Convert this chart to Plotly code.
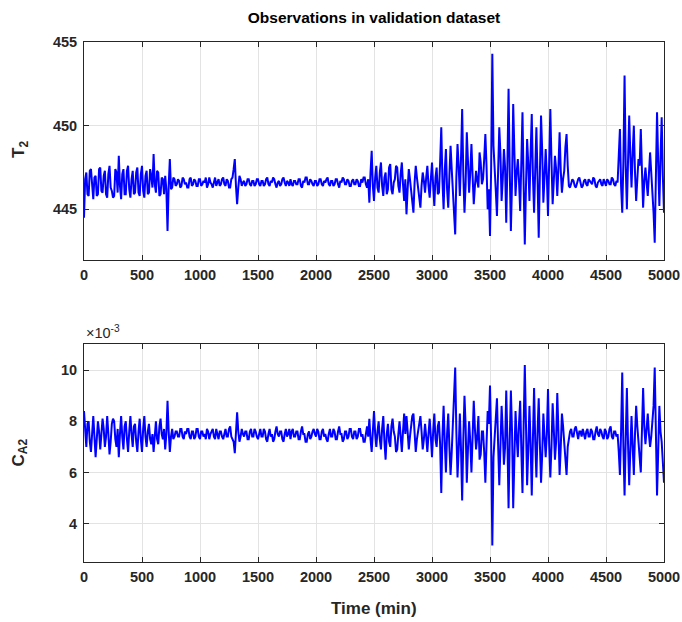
import plotly.graph_objects as go
from plotly.subplots import make_subplots

time_min = list(range(0, 5001, 10))

t2 = [
    # 0-490
    444.5, 446.8, 447.2, 445.9, 445.8, 447.3, 447.4, 446.2, 445.6, 446.9,
    447.0, 445.8, 445.9, 447.4, 447.5, 446.1, 446.0, 447.0, 447.3, 445.9,
    445.7, 447.1, 447.6, 446.3, 446.1, 445.7, 445.8, 447.4, 447.2, 446.0,
    448.2, 446.4, 445.6, 447.1, 447.4, 445.9, 445.9, 447.3, 447.6, 446.2,
    445.7, 446.8, 447.3, 445.9, 446.0, 447.2, 447.5, 446.0, 445.8, 447.1,
    # 500-990
    447.6, 446.1, 445.7, 447.0, 447.3, 445.9, 446.0, 447.4, 447.0, 446.3,
    448.3, 446.5, 446.0, 447.3, 447.2, 445.8, 445.9, 446.9, 446.8, 445.9,
    447.0, 446.2, 443.7, 446.4, 448.0, 446.2, 446.3, 446.9, 446.8, 446.4,
    446.5, 446.8, 446.7, 446.3, 446.4, 446.9, 446.8, 446.5, 446.6, 446.3,
    446.3, 446.8, 446.9, 446.4, 446.5, 446.8, 446.7, 446.4, 446.4, 446.8,
    # 1000-1490
    446.8, 446.4, 446.5, 446.7, 446.6, 446.9, 446.3, 446.5, 446.9, 446.6,
    446.5, 446.3, 446.7, 446.9, 446.4, 446.6, 446.8, 446.4, 446.5, 446.8,
    446.9, 446.5, 446.4, 446.8, 446.7, 446.3, 446.3, 446.8, 446.9, 447.4,
    448.0, 446.4, 445.3, 446.3, 447.0, 446.8, 446.4, 446.6, 446.7, 446.4,
    446.5, 446.8, 446.8, 446.5, 446.4, 446.7, 446.7, 446.4, 446.5, 446.8,
    # 1500-1990
    446.8, 446.5, 446.4, 446.7, 446.7, 446.4, 446.5, 446.8, 446.9, 446.5,
    446.4, 446.7, 446.6, 446.9, 446.8, 446.5, 446.3, 446.6, 446.7, 446.4,
    446.5, 446.8, 446.9, 446.6, 446.4, 446.7, 446.6, 446.4, 446.8, 446.5,
    446.4, 446.7, 446.7, 446.5, 446.5, 446.8, 446.8, 446.4, 446.3, 446.7,
    446.6, 446.9, 446.9, 446.5, 446.5, 446.8, 446.7, 446.5, 446.4, 446.7,
    # 2000-2490
    446.7, 446.4, 446.5, 446.8, 446.8, 446.5, 446.4, 446.7, 446.6, 446.8,
    446.9, 446.5, 446.4, 446.7, 446.7, 446.4, 446.5, 446.8, 446.8, 446.5,
    446.3, 446.7, 446.6, 446.9, 446.8, 446.5, 446.5, 446.8, 446.7, 446.4,
    446.4, 446.7, 446.8, 446.5, 446.5, 446.8, 446.7, 446.4, 446.4, 446.8,
    446.6, 446.9, 446.9, 446.5, 446.3, 446.8, 445.4, 447.2, 448.5, 446.4,
    # 2500-2990
    445.5, 446.9, 447.6, 446.3, 446.0, 447.2, 447.8, 446.4, 445.8, 446.9,
    447.2, 445.9, 446.2, 447.5, 447.7, 446.2, 445.9, 446.6, 446.8, 447.6,
    447.5, 446.4, 446.0, 447.1, 447.8, 446.5, 445.5, 446.8, 444.7, 446.2,
    447.4, 446.8, 446.1, 445.3, 444.8, 446.6, 447.6, 446.9, 446.3, 445.8,
    445.1, 446.4, 447.2, 446.7, 446.0, 446.9, 447.6, 446.4, 445.7, 446.8,
    # 3000-3490
    447.8, 446.4, 445.2, 446.9, 447.5, 445.9, 446.0, 447.8, 449.9, 446.7,
    445.0, 447.3, 448.6, 446.2, 445.1, 447.0, 448.8, 447.4, 446.0, 444.8,
    443.5, 446.9, 448.9, 447.6, 445.8, 448.0, 451.0, 447.1, 444.8, 446.5,
    449.6, 447.9, 446.0, 447.2, 448.9, 447.0, 445.3, 446.4, 447.3, 446.7,
    446.3, 448.4, 447.8, 446.5, 446.8, 448.0, 449.5, 447.6, 445.0, 446.2,
    # 3500-3990
    443.4, 447.5, 454.3, 448.8, 447.0, 446.1, 444.6, 447.2, 449.9, 448.3,
    445.5, 446.8, 448.6, 447.5, 444.2, 447.6, 452.2, 447.4, 443.7, 446.6,
    451.3, 448.5, 445.8, 447.2, 448.0, 446.7, 444.9, 447.8, 450.8, 446.5,
    442.9, 446.3, 449.2, 447.7, 445.5, 448.3, 450.7, 447.0, 444.8, 447.4,
    449.9, 446.8, 443.3, 447.1, 450.6, 448.5, 445.4, 446.9, 448.6, 447.0,
    # 4000-4490
    444.6, 447.8, 451.0, 447.9, 445.3, 446.7, 448.2, 447.4, 445.8, 447.5,
    449.6, 447.3, 446.0, 446.8, 447.3, 448.7, 449.5, 447.6, 446.4, 446.3,
    446.5, 446.8, 446.7, 446.4, 446.3, 446.6, 446.8, 446.9, 446.5, 446.3,
    446.4, 446.7, 446.8, 446.5, 446.4, 446.8, 446.7, 446.6, 446.5, 446.9,
    446.8, 446.4, 446.3, 446.6, 446.7, 446.8, 446.5, 446.4, 446.8, 446.6,
    # 4500-4990
    446.4, 446.8, 446.7, 446.5, 446.5, 446.9, 446.8, 446.5, 446.4, 446.7,
    446.6, 448.2, 449.8, 446.4, 444.8, 447.9, 453.0, 447.6, 445.0, 447.9,
    450.6, 448.2, 446.3, 448.4, 450.0, 447.2, 445.5, 446.8, 448.0, 447.6,
    449.8, 447.3, 445.1, 446.7, 447.5, 446.6, 445.8, 447.1, 448.4, 447.2,
    446.2, 444.8, 443.0, 447.4, 450.8, 447.8, 445.2, 448.1, 450.5, 447.0,
    # 5000
    444.8,
]

ca2_e3 = [
    # 0-490
    8.4, 7.6, 7.0, 7.9, 8.0, 7.2, 6.8, 7.5, 8.2, 7.4,
    6.6, 7.3, 8.0, 7.6, 6.9, 7.5, 8.1, 7.7, 7.0, 7.4,
    8.2, 7.5, 6.7, 7.2, 7.9, 8.1, 8.0, 7.3, 7.0, 7.7,
    6.6, 7.5, 8.2, 7.4, 6.9, 7.8, 8.0, 7.3, 6.8, 7.6,
    8.2, 7.5, 7.0, 7.8, 7.9, 7.2, 6.8, 7.6, 8.1, 7.3,
    # 500-990
    6.8, 7.7, 8.2, 7.4, 7.0, 7.6, 7.9, 7.3, 7.1, 7.5,
    6.8, 7.4, 8.0, 7.3, 7.1, 7.8, 8.1, 7.5, 7.3, 7.7,
    6.9, 7.5, 8.8, 7.6, 6.8, 7.4, 7.7, 7.3, 7.4, 7.6,
    7.6, 7.4, 7.4, 7.7, 7.7, 7.4, 7.3, 7.6, 7.5, 7.7,
    7.7, 7.4, 7.3, 7.6, 7.6, 7.3, 7.4, 7.7, 7.7, 7.4,
    # 1000-1490
    7.3, 7.6, 7.6, 7.4, 7.5, 7.3, 7.7, 7.6, 7.3, 7.5,
    7.6, 7.7, 7.4, 7.3, 7.7, 7.5, 7.3, 7.6, 7.6, 7.4,
    7.3, 7.5, 7.7, 7.4, 7.4, 7.7, 7.8, 7.4, 7.3, 7.2,
    6.75, 7.6, 8.35, 7.6, 7.2, 7.4, 7.7, 7.5, 7.4, 7.6,
    7.6, 7.3, 7.3, 7.6, 7.7, 7.4, 7.4, 7.7, 7.6, 7.4,
    # 1500-1990
    7.3, 7.5, 7.7, 7.4, 7.4, 7.7, 7.6, 7.3, 7.2, 7.5,
    7.7, 7.4, 7.5, 7.2, 7.3, 7.6, 7.8, 7.5, 7.4, 7.6,
    7.6, 7.3, 7.2, 7.5, 7.7, 7.4, 7.5, 7.7, 7.3, 7.6,
    7.7, 7.4, 7.4, 7.6, 7.6, 7.3, 7.3, 7.6, 7.8, 7.5,
    7.5, 7.2, 7.2, 7.5, 7.6, 7.3, 7.4, 7.6, 7.7, 7.5,
    # 2000-2490
    7.4, 7.7, 7.6, 7.3, 7.3, 7.6, 7.7, 7.4, 7.5, 7.3,
    7.2, 7.5, 7.7, 7.4, 7.4, 7.7, 7.6, 7.3, 7.3, 7.6,
    7.8, 7.5, 7.5, 7.2, 7.3, 7.6, 7.6, 7.3, 7.4, 7.7,
    7.7, 7.4, 7.3, 7.6, 7.6, 7.3, 7.4, 7.7, 7.7, 7.4,
    7.5, 7.2, 7.2, 7.5, 7.8, 7.4, 8.1, 7.3, 6.8, 7.6,
    # 2500-2990
    8.4, 7.5, 7.0, 7.6, 8.0, 7.3, 6.9, 7.7, 8.2, 7.2,
    6.5, 7.5, 7.9, 7.2, 7.0, 7.8, 8.1, 7.6, 7.4, 6.8,
    6.9, 7.5, 8.0, 7.4, 6.8, 7.6, 8.3, 7.5, 8.2, 7.6,
    6.9, 7.4, 7.8, 8.2, 8.3, 7.4, 6.8, 7.3, 7.6, 7.9,
    8.2, 7.6, 6.9, 7.3, 7.9, 7.4, 6.8, 7.5, 8.1, 7.4,
    # 3000-3490
    6.6, 7.6, 8.3, 7.3, 7.0, 7.8, 8.0, 7.1, 5.2, 7.4,
    8.6, 7.2, 6.0, 7.5, 8.3, 7.0, 5.9, 6.8, 7.8, 8.6,
    10.1, 7.6, 5.8, 6.9, 8.3, 6.9, 4.9, 7.3, 9.0, 7.8,
    5.6, 6.9, 8.0, 7.2, 6.0, 7.4, 8.8, 7.7, 6.9, 7.4,
    8.2, 6.5, 6.7, 7.6, 7.6, 6.8, 5.6, 7.1, 8.4, 7.9,
    # 3500-3990
    9.4, 7.2, 3.15, 6.6, 7.4, 8.3, 8.9, 7.1, 5.5, 7.0,
    8.6, 7.6, 6.3, 7.0, 9.2, 7.3, 4.6, 7.2, 9.2, 7.6,
    4.6, 6.5, 8.4, 7.4, 6.6, 7.9, 8.8, 6.9, 5.2, 7.8,
    10.2, 7.9, 5.5, 6.9, 8.6, 7.1, 5.1, 7.3, 9.3, 7.2,
    5.8, 7.6, 8.9, 7.1, 5.6, 6.7, 8.3, 7.4, 6.6, 7.5,
    # 4000-4490
    9.26, 7.1, 5.8, 7.0, 8.7, 7.7, 6.5, 7.2, 9.1, 7.6,
    5.9, 7.0, 8.3, 7.8, 7.0, 6.5, 5.9, 7.0, 7.4, 7.6,
    7.7, 7.4, 7.4, 7.7, 7.8, 7.5, 7.3, 7.6, 7.6, 7.4,
    7.7, 7.5, 7.3, 7.6, 7.7, 7.4, 7.4, 7.7, 7.6, 7.3,
    7.3, 7.6, 7.8, 7.5, 7.4, 7.7, 7.6, 7.4, 7.3, 7.7,
    # 4500-4990
    7.6, 7.3, 7.4, 7.7, 7.8, 7.4, 7.3, 7.6, 7.6, 7.4,
    7.5, 6.8, 5.9, 7.6, 9.9, 7.0, 5.1, 7.3, 9.3, 7.1,
    5.5, 6.9, 8.2, 7.0, 5.9, 7.5, 8.6, 7.8, 7.0, 6.6,
    6.0, 7.5, 9.3, 7.8, 7.1, 7.7, 8.3, 7.5, 7.0, 7.4,
    7.9, 8.6, 10.1, 7.3, 5.1, 6.8, 8.6, 7.6, 7.2, 6.4,
    # 5000
    5.6,
]

x_ticks = list(range(0, 5001, 500))
t2_ticks = [445, 450, 455]
ca2_ticks = [4, 6, 8, 10]

dark = "#262626"
grid = "#e3e3e3"
font_main = "Liberation Sans, Arial, sans-serif"

fig = make_subplots(rows=2, cols=1, vertical_spacing=0.1634)
fig.add_trace(go.Scatter(x=time_min, y=t2, mode="lines",
                         line=dict(color="#0000ff", width=2.0), showlegend=False), row=1, col=1)
fig.add_trace(go.Scatter(x=time_min, y=ca2_e3, mode="lines",
                         line=dict(color="#0000ff", width=2.0), showlegend=False), row=2, col=1)

axis_common = dict(
    showline=True, linecolor=dark, linewidth=1, mirror="allticks",
    ticks="inside", ticklen=5, tickcolor=dark, tickwidth=1,
    showgrid=True, gridcolor=grid, gridwidth=1, zeroline=False,
    automargin=False,
    tickfont=dict(family=font_main, size=14.5, color=dark, weight="bold"),
)

fig.update_xaxes(range=[0, 5000], tickvals=x_ticks, ticklabelstandoff=2, **axis_common)
fig.update_yaxes(range=[442, 455], tickvals=t2_ticks, ticklabelstandoff=3, row=1, col=1, **axis_common)
fig.update_yaxes(range=[2.5, 11], tickvals=ca2_ticks, ticklabelstandoff=3, row=2, col=1, **axis_common)

title_font = dict(family=font_main, size=17, color=dark)
fig.add_annotation(text="<b>T<sub>2</sub></b>", xref="paper", yref="paper",
                   x=-64 / 580, y=0.5 * (1 + 0.5846), xanchor="center", yanchor="middle",
                   textangle=-90, showarrow=False, font=title_font)
fig.add_annotation(text="<b>C<sub>A2</sub></b>", xref="paper", yref="paper",
                   x=-64 / 580, y=0.5 * 0.4212, xanchor="center", yanchor="middle",
                   textangle=-90, showarrow=False, font=title_font)
fig.add_annotation(text="<b>Time (min)</b>", xref="paper", yref="paper",
                   x=0.5, y=-46 / 520, xanchor="center", yanchor="middle",
                   showarrow=False, font=dict(family=font_main, size=17, color=dark))

fig.add_annotation(text="×10<sup>-3</sup>", xref="paper", yref="paper", x=0, y=0.4212,
                   xanchor="left", yanchor="bottom", showarrow=False,
                   font=dict(family=font_main, size=14.5, color=dark), yshift=0)

fig.update_layout(
    width=682, height=622,
    margin=dict(l=84, r=18, t=42, b=60),
    plot_bgcolor="white", paper_bgcolor="white",
    title=dict(text="<b>Observations in validation dataset</b>", x=(84 + 290) / 682, xanchor="center",
               y=1 - 18 / 622, yanchor="middle",
               font=dict(family=font_main, size=15.5, color="#000000")),
)

fig.write_html("out.html")
